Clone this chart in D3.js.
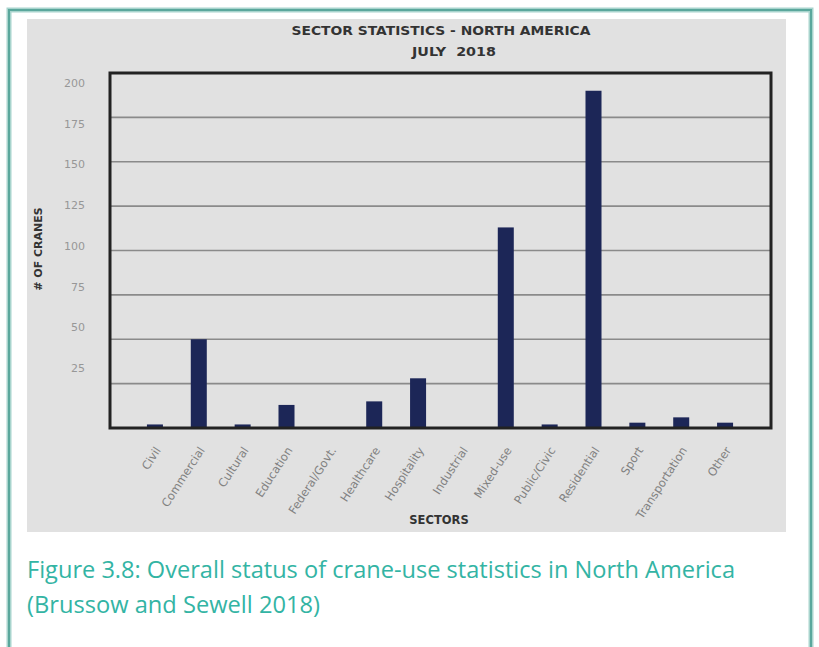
<!DOCTYPE html>
<html>
<head>
<meta charset="utf-8">
<script src="https://cdn.jsdelivr.net/npm/d3@7"></script>
<style>
  body { margin: 0; background: #fff; }
  svg text { font-family: "DejaVu Sans", "Open Sans", sans-serif; }
</style>
</head>
<body>
<div id="chart"></div>
<script>
var sectors = ["Civil", "Commercial", "Cultural", "Education", "Federal/Govt.", "Healthcare",
               "Hospitality", "Industrial", "Mixed-use", "Public/Civic", "Residential", "Sport",
               "Transportation", "Other"];
var cranes = [2, 50, 2, 13, 0, 15, 28, 0, 113, 2, 190, 3, 6, 3];
var gridTicks = [0, 25, 50, 75, 100, 125, 150, 175, 200];
var tickLabels = [25, 50, 75, 100, 125, 150, 175, 200];

var W = 819, H = 647;
var svg = d3.select("#chart").append("svg")
    .attr("width", W)
    .attr("height", H);

// outer teal frame
svg.append("rect")
    .attr("x", 9).attr("y", 10)
    .attr("width", 802).attr("height", 660)
    .attr("fill", "none")
    .attr("stroke", "#a8d4cd")
    .attr("stroke-width", 5);
svg.append("rect")
    .attr("x", 9).attr("y", 10)
    .attr("width", 802).attr("height", 660)
    .attr("fill", "none")
    .attr("stroke", "#5aa79c")
    .attr("stroke-width", 2);

// grey chart image
svg.append("rect")
    .attr("x", 27).attr("y", 19)
    .attr("width", 759).attr("height", 513)
    .attr("fill", "#e1e1e1");

var plot = {left: 110, top: 73, right: 771, bottom: 428};

var x = d3.scaleBand()
    .domain(sectors)
    .range([133, 747])
    .paddingInner(0.635)
    .paddingOuter(0.3175);

var y = d3.scaleLinear()
    .domain([0, 200])
    .range([plot.bottom, plot.top]);

// the tick labels in the source sit slightly off the gridlines
var yLabel = d3.scaleLinear()
    .domain([0, 200])
    .range([409, 83]);

// gridlines
svg.append("g")
    .selectAll("line")
    .data(gridTicks.slice(1, -1))
    .enter().append("line")
      .attr("x1", plot.left).attr("x2", plot.right)
      .attr("y1", function(d) { return y(d); })
      .attr("y2", function(d) { return y(d); })
      .attr("stroke", "#8a8a8a")
      .attr("stroke-width", 1.6);

// bars
svg.append("g")
    .selectAll("rect")
    .data(sectors)
    .enter().append("rect")
      .attr("x", function(d) { return x(d); })
      .attr("width", x.bandwidth())
      .attr("y", function(d, i) { return y(cranes[i]); })
      .attr("height", function(d, i) { return y(0) - y(cranes[i]); })
      .attr("fill", "#1c2657");

// plot frame
svg.append("rect")
    .attr("x", plot.left).attr("y", plot.top)
    .attr("width", plot.right - plot.left)
    .attr("height", plot.bottom - plot.top)
    .attr("fill", "none")
    .attr("stroke", "#222")
    .attr("stroke-width", 3);

// y tick labels
svg.append("g")
    .selectAll("text")
    .data(tickLabels)
    .enter().append("text")
      .attr("x", 85)
      .attr("y", function(d) { return yLabel(d); })
      .attr("dy", "0.35em")
      .attr("text-anchor", "end")
      .attr("fill", "#979797")
      .style("font-size", "11px")
      .text(function(d) { return d; });

// x category labels
svg.append("g")
    .selectAll("text")
    .data(sectors)
    .enter().append("text")
      .attr("transform", function(d) {
          return "translate(" + (x(d) + x.bandwidth() / 2 + 3) + ",448) rotate(-57)";
      })
      .attr("text-anchor", "end")
      .attr("dy", "0.35em")
      .attr("fill", "#808080")
      .style("font-size", "11.5px")
      .text(function(d) { return d; });

// titles
svg.append("text")
    .attr("x", 441).attr("y", 35)
    .attr("text-anchor", "middle")
    .attr("fill", "#333")
    .attr("textLength", 299)
    .attr("lengthAdjust", "spacingAndGlyphs")
    .style("font-size", "12.5px")
    .style("font-weight", "bold")
    .text("SECTOR STATISTICS - NORTH AMERICA");

svg.append("text")
    .attr("x", 454).attr("y", 56)
    .attr("text-anchor", "middle")
    .attr("fill", "#333")
    .attr("textLength", 84)
    .attr("lengthAdjust", "spacingAndGlyphs")
    .style("font-size", "12.5px")
    .style("font-weight", "bold")
    .style("white-space", "pre")
    .text("JULY  2018");

svg.append("text")
    .attr("transform", "translate(42,249) rotate(-90)")
    .attr("text-anchor", "middle")
    .attr("fill", "#333")
    .style("font-size", "11px")
    .style("font-weight", "bold")
    .text("# OF CRANES");

svg.append("text")
    .attr("x", 439).attr("y", 524)
    .attr("text-anchor", "middle")
    .attr("fill", "#333")
    .style("font-size", "11.5px")
    .style("font-weight", "bold")
    .text("SECTORS");

// caption
var caption = svg.append("text")
    .attr("fill", "#33b4a4")
    .style("font-size", "23px")
    .style("font-family", "'Open Sans', Lato, sans-serif");
caption.append("tspan").attr("x", 27).attr("y", 578)
    .attr("textLength", 708)
    .attr("lengthAdjust", "spacingAndGlyphs")
    .text("Figure 3.8: Overall status of crane-use statistics in North America");
caption.append("tspan").attr("x", 27).attr("y", 613)
    .attr("textLength", 293)
    .attr("lengthAdjust", "spacingAndGlyphs")
    .text("(Brussow and Sewell 2018)");
</script>
</body>
</html>
